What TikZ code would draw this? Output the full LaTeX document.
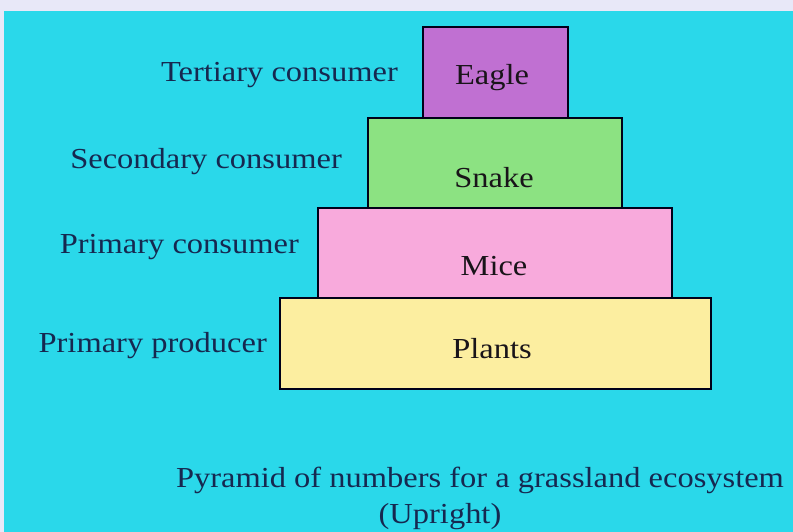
\documentclass[tikz,border=0pt]{standalone}
\usepackage{fontspec}
\setmainfont{Liberation Serif}[FakeStretch=1.12]
\definecolor{bgcyan}{RGB}{42,216,234}
\definecolor{topband}{RGB}{232,232,248}
\definecolor{eaglefill}{RGB}{192,112,210}
\definecolor{snakefill}{RGB}{140,226,130}
\definecolor{micefill}{RGB}{248,170,220}
\definecolor{plantfill}{RGB}{252,238,160}
\definecolor{labelink}{RGB}{22,40,80}
\definecolor{boxink}{RGB}{25,20,25}
\begin{document}
\begin{tikzpicture}[x=1pt,y=-1pt,
  tier/.style={draw=black!90!blue, line width=2.2pt, inner sep=0pt},
  tiertext/.style={font=\fontsize{29}{32}\selectfont, text=boxink, anchor=base, inner sep=0pt},
  sidelabel/.style={font=\fontsize{29}{32}\selectfont, text=labelink, anchor=base east, inner sep=0pt},
  caption/.style={font=\fontsize{29}{32}\selectfont, text=labelink, anchor=base, inner sep=0pt}]
\useasboundingbox (0,0) rectangle (793,532);
\fill[topband] (0,0) rectangle (793,532);
\fill[bgcyan] (4,11) rectangle (793,532);
% tiers
\node[tier, fill=eaglefill, minimum width=145pt, minimum height=91pt] (eagle) at (495.5,72.5) {};
\node[tier, fill=snakefill, minimum width=254pt, minimum height=90pt] (snake) at (495,163) {};
\node[tier, fill=micefill, minimum width=354pt, minimum height=90pt] (mice) at (495,253) {};
\node[tier, fill=plantfill, minimum width=431pt, minimum height=91pt] (plants) at (495.5,343.5) {};
% texts in tiers
\node[tiertext] (teagle) at (492,85) {Eagle};
\node[tiertext] (tsnake) at (494,188) {Snake};
\node[tiertext] (tmice) at (494,275) {Mice};
\node[tiertext] (tplants) at (492,358) {Plants};
% side labels
\node[sidelabel] (l1) at (398,82) {Tertiary consumer};
\node[sidelabel] (l2) at (342,169) {Secondary consumer};
\node[sidelabel] (l3) at (299,253) {Primary consumer};
\node[sidelabel] (l4) at (267,352) {Primary producer};
% caption
\node[caption] (cap1) at (480,487) {Pyramid of numbers for a grassland ecosystem};
\node[caption] (cap2) at (440,523) {(Upright)};
\end{tikzpicture}
\end{document}
